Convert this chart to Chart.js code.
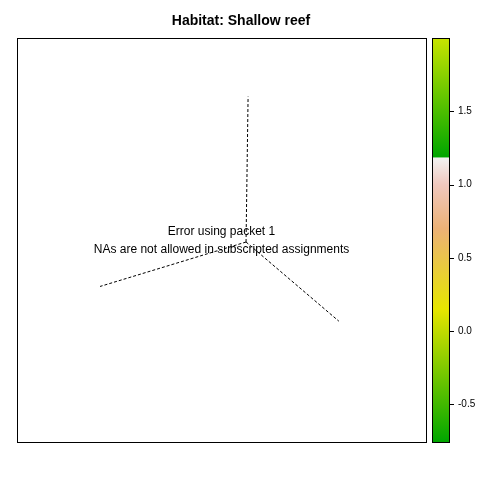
<!DOCTYPE html>
<html lang="en">
  <head>
    <meta charset="UTF-8" />
    <title>Habitat: Shallow reef</title>
    <style>
      html, body { margin: 0; padding: 0; background: #fff; }
      .container { width: 480px; height: 480px; }
    </style>
  </head>
  <body>
    <div class="container">
      <canvas id="myChart" width="480" height="480"></canvas>
    </div>
    <script src="https://cdn.jsdelivr.net/npm/chart.js@4.4.0/dist/chart.umd.min.js"></script>
    <script>
      // dashed spokes from the centre, in panel units (0..1)
      const centre = { x: 0.56, y: 0.495 };
      const spokeEnds = [
        { x: 0.565, y: 0.855 },
        { x: 0.203, y: 0.385 },
        { x: 0.787, y: 0.299 },
      ];
      const errorLines = ["Error using packet 1", "NAs are not allowed in subscripted assignments"];
      const colorTicks = [-0.5, 0, 0.5, 1, 1.5];
      const colorMin = -0.757;
      const colorMax = 2.0;
      // colour key stops: value, colour
      const keyStops = [
        [-0.757, "rgb(0,166,0)"],
        [0.15, "rgb(230,230,0)"],
        [0.7, "rgb(236,177,118)"],
        [1.0, "rgb(240,200,190)"],
        [1.18, "rgb(242,242,242)"],
        [1.19, "rgb(0,166,0)"],
        [2.0, "rgb(200,228,0)"],
      ];

      const datasets = spokeEnds.map((p) => ({
        data: [centre, p],
        showLine: true,
        borderColor: "#000",
        borderWidth: 1,
        borderDash: [3, 2],
        pointRadius: 0,
      }));

      const panel = {
        id: "panel",
        afterDraw(chart) {
          const c = chart.ctx;
          const a = chart.chartArea;
          const xs = chart.scales.x, ys = chart.scales.y, ks = chart.scales.key;
          c.save();
          c.strokeStyle = "#000";
          c.lineWidth = 1;
          c.strokeRect(a.left + 0.5, a.top + 0.5, a.right - a.left, a.bottom - a.top);

          c.fillStyle = "#000";
          c.font = "12px 'Liberation Sans', Arial, sans-serif";
          c.textAlign = "center";
          c.textBaseline = "middle";
          c.fillText(errorLines[0], xs.getPixelForValue(0.5), ys.getPixelForValue(0.52));
          c.fillText(errorLines[1], xs.getPixelForValue(0.5), ys.getPixelForValue(0.476));

          c.font = "bold 14px 'Liberation Sans', Arial, sans-serif";
          c.fillText("Habitat: Shallow reef", 241, 21);

          // colour key
          const x0 = 432, w = 17;
          const top = ks.getPixelForValue(colorMax), bot = ks.getPixelForValue(colorMin);
          const g = c.createLinearGradient(0, bot, 0, top);
          keyStops.forEach(([v, col]) => g.addColorStop((v - colorMin) / (colorMax - colorMin), col));
          c.fillStyle = g;
          c.fillRect(x0, top, w, bot - top);
          c.strokeRect(x0 + 0.5, top + 0.5, w, bot - top);
          colorTicks.forEach((v) => {
            const y = Math.round(ks.getPixelForValue(v)) + 0.5;
            c.beginPath();
            c.moveTo(x0 + w + 1, y);
            c.lineTo(x0 + w + 5, y);
            c.stroke();
          });
          c.restore();
        },
      };

      new Chart(document.getElementById("myChart"), {
        type: "scatter",
        data: { datasets },
        options: {
          responsive: false,
          animation: false,
          layout: { padding: { left: 17, top: 38, bottom: 34, right: 0 } },
          plugins: { legend: { display: false }, tooltip: { enabled: false } },
          scales: {
            x: { type: "linear", min: 0, max: 1, display: false },
            y: { type: "linear", min: 0, max: 1, display: false },
            key: {
              type: "linear",
              position: "right",
              min: colorMin,
              max: colorMax,
              border: { display: false },
              grid: { display: false, drawTicks: false },
              afterBuildTicks: (s) => { s.ticks = colorTicks.map((v) => ({ value: v })); },
              afterFit: (s) => { s.width = 54; },
              ticks: {
                padding: 32,
                color: "#000",
                font: { size: 10, family: "'Liberation Sans', Arial, sans-serif" },
                callback: (v) => v.toFixed(1),
              },
            },
          },
        },
        plugins: [panel],
      });
    </script>
  </body>
</html>
